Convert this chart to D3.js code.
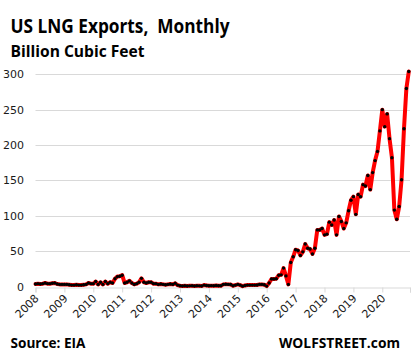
<!DOCTYPE html>
<html><head><meta charset="utf-8">
<script src="https://cdn.jsdelivr.net/npm/d3@7"></script>
<style>body{margin:0;background:#fff}svg{display:block}</style>
</head><body>
<script>
// Monthly US LNG exports, Bcf, Jan 2008 .. Dec 2020
const years = ["2008","2009","2010","2011","2012","2013","2014","2015","2016","2017","2018","2019","2020"];
const v2008 = [3.5,4,3.5,4,5,4,4,4.5,5,3.5,3,3];
const v2009 = [3,3,2.5,2,2,2.5,2,2,2.5,3,5,4];
const v2010 = [4,7,3,6,3,7,4,6,5,11,14,14.5];
const v2011 = [16,5,6,8,5,3,4,6,11.5,6,5,6];
const v2012 = [6,4,4,3,3.5,3,2.5,3,3.5,3,4.5,2];
const v2013 = [1,0.8,1,0.7,0.9,1,0.8,1,0.9,0.7,2,1.5];
const v2014 = [1,1.2,1,1.5,1,1,3,3.2,3,2.8,1,2];
const v2015 = [3,2,0.5,1.5,2,2,2,2,2.2,3,3,2.5];
const v2016 = [0.6,5,10.6,10.6,11,16,16.5,26,15,3,34,42];
const v2017 = [52,51,44,49,60,54,53,46,54,80,80,82];
const v2018 = [73,74,91,87,94,73,99,92,82,90,107,122];
const v2019 = [127,102,130,127,144,142,157,137,161,178,191,220];
const v2020 = [250,226,244,209,182,108,95,113,151,223,280,304];
const yTicks = [0,50,100,150,200,250,300];

const values = [].concat(v2008,v2009,v2010,v2011,v2012,v2013,v2014,v2015,v2016,v2017,v2018,v2019,v2020);

const W = 415, H = 363;
const svg = d3.select("body").append("svg").attr("width", W).attr("height", H);

const x = d3.scaleLinear().domain([0, 155.5]).range([35.5, 410]);
const y = d3.scaleLinear().domain([0, 300]).range([286.5, 74.3]);

// gridlines
svg.append("g").selectAll("line").data(yTicks.filter(d => d > 0)).join("line")
  .attr("x1", x(0)).attr("x2", x(155.5))
  .attr("y1", d => Math.round(y(d)) + 0.5).attr("y2", d => Math.round(y(d)) + 0.5)
  .attr("stroke", "#d9d9d9").attr("stroke-width", 1);

// y labels
svg.append("g").selectAll("text").data(yTicks).join("text")
  .attr("x", 24).attr("y", d => y(d) + 4)
  .attr("text-anchor", "end")
  .attr("font-family", "DejaVu Sans, Verdana, sans-serif").attr("font-size", 11)
  .attr("fill", "#1a1a1a")
  .text(d => d);

// x axis
const xAxis = d3.axisBottom(x)
  .tickValues(d3.range(0, 156, 12).concat([155.5]))
  .tickSize(5).tickFormat("");
const gx = svg.append("g").attr("transform", `translate(0,${Math.round(y(0)) + 0.5})`).call(xAxis);
gx.select(".domain").attr("stroke", "#d9d9d9");
gx.selectAll(".tick line").attr("stroke", "#d9d9d9");

svg.append("g").selectAll("text").data(years).join("text")
  .attr("transform", (d, i) => `translate(${x(i * 12) + 4},${299}) rotate(-45)`)
  .attr("text-anchor", "end")
  .attr("font-family", "DejaVu Sans, Verdana, sans-serif").attr("font-size", 11)
  .attr("fill", "#1a1a1a")
  .text(d => d);

// line
const line = d3.line().x((d, i) => x(i)).y(d => y(d));
svg.append("path").datum(values)
  .attr("d", line).attr("fill", "none")
  .attr("stroke", "#ff0000").attr("stroke-width", 4)
  .attr("stroke-linejoin", "round").attr("stroke-linecap", "round");

svg.append("g").selectAll("circle").data(values).join("circle")
  .attr("cx", (d, i) => x(i)).attr("cy", d => y(d)).attr("r", 1.7)
  .attr("fill", "#000");

// titles
svg.append("text").attr("x", 10.5).attr("y", 33)
  .attr("font-family", "Open Sans, sans-serif").attr("font-weight", 700).attr("font-size", 19)
  .attr("textLength", 219).attr("lengthAdjust", "spacingAndGlyphs")
  .attr("fill", "#000").attr("xml:space", "preserve")
  .text("US LNG Exports,  Monthly");
svg.append("text").attr("x", 10.5).attr("y", 57)
  .attr("font-family", "Open Sans, sans-serif").attr("font-weight", 700).attr("font-size", 16)
  .attr("textLength", 134).attr("lengthAdjust", "spacingAndGlyphs")
  .attr("fill", "#000")
  .text("Billion Cubic Feet");
svg.append("text").attr("x", 10.5).attr("y", 348)
  .attr("font-family", "Open Sans, sans-serif").attr("font-weight", 700).attr("font-size", 14)
  .attr("textLength", 75).attr("lengthAdjust", "spacingAndGlyphs")
  .attr("fill", "#000")
  .text("Source: EIA");
svg.append("text").attr("x", 279).attr("y", 348)
  .attr("font-family", "Open Sans, sans-serif").attr("font-weight", 700).attr("font-size", 14)
  .attr("textLength", 121).attr("lengthAdjust", "spacingAndGlyphs")
  .attr("fill", "#000")
  .text("WOLFSTREET.com");
</script>
</body></html>
